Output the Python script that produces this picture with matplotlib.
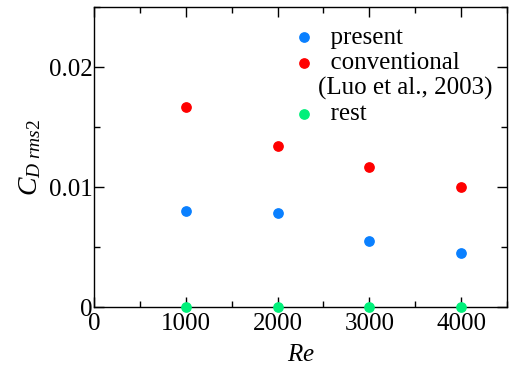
import matplotlib
matplotlib.use("Agg")
import matplotlib.pyplot as plt
from matplotlib.ticker import MultipleLocator
from matplotlib.lines import Line2D

plt.rcParams['font.family'] = ['Liberation Serif', 'DejaVu Serif']
plt.rcParams['mathtext.fontset'] = 'custom'
plt.rcParams['mathtext.rm'] = 'Liberation Serif'
plt.rcParams['mathtext.it'] = 'Liberation Serif:italic'

re_vals = [1000, 2000, 3000, 4000]
present = [0.0080, 0.0078, 0.0055, 0.0045]
conventional = [0.0167, 0.0134, 0.0117, 0.0100]
rest = [0.0, 0.0, 0.0, 0.0]

fig = plt.figure(figsize=(5.10, 3.67), dpi=100)
ax = fig.add_axes([94/510, 1 - 307/367, 413/510, 300/367])

ms = 45
h1 = ax.scatter(re_vals, present, s=ms, color='#0a80ff', zorder=3, clip_on=False)
h2 = ax.scatter(re_vals, conventional, s=ms, color='#ff0000', zorder=3, clip_on=False)
h3 = ax.scatter(re_vals, rest, s=ms, color='#00f07a', zorder=3, clip_on=False)
blank = Line2D([], [], linestyle='none', marker=None)

ax.set_xlim(0, 4500)
ax.set_ylim(0, 0.025)
ax.xaxis.set_major_locator(MultipleLocator(1000))
ax.xaxis.set_minor_locator(MultipleLocator(500))
ax.yaxis.set_minor_locator(MultipleLocator(0.005))
ax.set_yticks([0, 0.01, 0.02])
ax.set_yticklabels(['0', '0.01', '0.02'])
ax.tick_params(which='both', direction='in', top=True, right=True, labelsize=18, width=1)
ax.tick_params(which='major', length=7)
ax.tick_params(which='minor', length=4)
ax.tick_params(axis='y', pad=1)
ax.tick_params(axis='x', pad=4)
for s in ax.spines.values():
    s.set_linewidth(1)

ax.set_xlabel(r'$Re$', fontsize=18, labelpad=7)
ax.set_ylabel(r'$C_{D\ rms2}$', fontsize=20, labelpad=4)

ax.legend([h1, h2, blank, h3],
          ['  present', '  conventional', '(Luo et al., 2003)', '  rest'],
          loc='upper left', bbox_to_anchor=(0.494, 0.935), frameon=False, fontsize=18,
          handlelength=0.5, handletextpad=0.31, borderpad=0.0, borderaxespad=0.0,
          labelspacing=0.11, scatterpoints=1)

fig.savefig('out.png', dpi=100)
